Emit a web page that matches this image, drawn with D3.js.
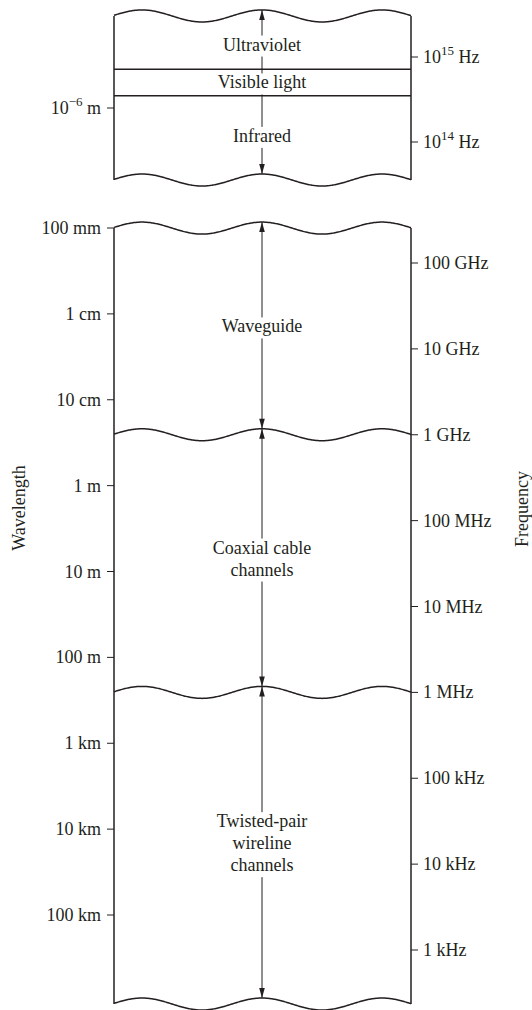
<!DOCTYPE html>
<html>
<head>
<meta charset="utf-8">
<script src="https://cdn.jsdelivr.net/npm/d3@7"></script>
<style>
  html, body { margin: 0; padding: 0; background: #fff; }
  svg { display: block; }
  text { font-family: "Liberation Serif", "DejaVu Serif", serif; font-size: 18px; fill: #231f20; }
</style>
</head>
<body>
<svg id="chart" width="532" height="1010"></svg>
<script>
// ---------- data ----------
// Optical (upper) panel
const opticalFreqTicks = [1e15, 1e14];
const opticalFreqExp = ["15", "14"];
const opticalWavelengthTicks = [1e-6];
const opticalWavelengthExp = ["\u22126"];
const opticalBandNames = ["Ultraviolet", "Visible light", "Infrared"];
const opticalBandEdges = [3.04e15, 7.2e14, 3.5e14, 3.57e13]; // Hz, top -> bottom

// Guided-wave (lower) panel
const wavelengthTicks = [1e-3, 1e-2, 1e-1, 1, 10, 100, 1e3, 1e4, 1e5]; // m
const wavelengthLabels = ["100 mm", "1 cm", "10 cm", "1 m", "10 m", "100 m", "1 km", "10 km", "100 km"];
const frequencyTicks = [1e11, 1e10, 1e9, 1e8, 1e7, 1e6, 1e5, 1e4, 1e3]; // Hz
const frequencyLabels = ["100 GHz", "10 GHz", "1 GHz", "100 MHz", "10 MHz", "1 MHz", "100 kHz", "10 kHz", "1 kHz"];
const bandNames = [["Waveguide"], ["Coaxial cable", "channels"], ["Twisted-pair", "wireline", "channels"]];
const bandEdges = [2.55e11, 1e9, 1e6, 235]; // Hz, top -> bottom

// ---------- layout ----------
const ink = "#231f20";
const xLeft = 114, xRight = 411, xMid = 262;
const waveAmp = 6, wavePeriod = 120;
const lineH = 22;

const svg = d3.select("#chart");

// scales
const yOptF = d3.scaleLog().domain([1e15, 1e14]).range([57, 142]);
const yOptW = d3.scaleLog().domain([1e-6, 1e-5]).range([108, 193]);
const yF = d3.scaleLog().domain([1e11, 1e3]).range([263, 950]);
const yW = d3.scaleLog().domain([1e-3, 1e5]).range([228, 915]);

// defs: arrowheads
const defs = svg.append("defs");
defs.append("marker")
  .attr("id", "ah").attr("viewBox", "-11 -4 12 8")
  .attr("refX", 0).attr("refY", 0)
  .attr("markerWidth", 12).attr("markerHeight", 8)
  .attr("markerUnits", "userSpaceOnUse")
  .attr("orient", "auto-start-reverse")
  .append("path").attr("d", "M0,0 L-10,-2.8 L-10,2.8 Z").attr("fill", ink);

const xs = d3.range(xLeft, xRight + 0.5, 1);
const waveLine = d3.line().x(d => d[0]).y(d => d[1]);
function wave(g, yc) {
  g.append("path")
    .attr("d", waveLine(xs.map(x => [x, yc - waveAmp * Math.cos(2 * Math.PI * (x - xMid) / wavePeriod)])))
    .attr("fill", "none").attr("stroke", ink).attr("stroke-width", 1.5);
}

function panel(edges, yScale, names, straightInner) {
  const g = svg.append("g");
  const ys = edges.map(yScale);
  // sides
  [xLeft, xRight].forEach(x => g.append("line")
    .attr("x1", x).attr("x2", x).attr("y1", ys[0]).attr("y2", ys[ys.length - 1])
    .attr("stroke", ink).attr("stroke-width", 1.5));
  // boundaries
  ys.forEach((y, i) => {
    const inner = i > 0 && i < ys.length - 1;
    if (inner && straightInner) {
      g.append("line").attr("x1", xLeft).attr("x2", xRight).attr("y1", y).attr("y2", y)
        .attr("stroke", ink).attr("stroke-width", 1.5);
    } else {
      wave(g, y);
    }
  });
  return { g, ys };
}

function bandArrow(g, y1, y2) {
  g.append("line").attr("x1", xMid).attr("x2", xMid).attr("y1", y1).attr("y2", y2)
    .attr("stroke", ink).attr("stroke-width", 1)
    .attr("marker-start", "url(#ah)").attr("marker-end", "url(#ah)");
}

function label(g, lines, yCenter) {
  const lg = g.append("g");
  const rect = lg.append("rect").attr("fill", "#fff");
  const n = lines.length;
  const firstBase = yCenter + 6 - (n - 1) * lineH / 2;
  lines.forEach((t, i) => lg.append("text")
    .attr("x", xMid).attr("y", firstBase + i * lineH)
    .attr("text-anchor", "middle").text(t));
  const bb = lg.node().getBBox();
  rect.attr("x", bb.x - 2).attr("y", bb.y + 1).attr("width", bb.width + 4).attr("height", bb.height + 1);
}

// ---------- optical panel ----------
{
  const { g, ys } = panel(opticalBandEdges, yOptF, opticalBandNames, true);
  bandArrow(g, ys[0] - waveAmp, ys[ys.length - 1] - waveAmp);
  const centers = [45, 82, 136];
  opticalBandNames.forEach((n, i) => {
    const c = (ys[i] + ys[i + 1]) / 2 + [0, 0, 0][i];
    label(g, [n], i === 0 ? c + 2 : (i === 2 ? c - 2 : c));
  });
  // right ticks
  opticalFreqTicks.forEach((f, i) => {
    const y = yOptF(f);
    g.append("line").attr("x1", xRight).attr("x2", xRight + 7).attr("y1", y).attr("y2", y)
      .attr("stroke", ink).attr("stroke-width", 1);
    const t = g.append("text").attr("x", xRight + 12).attr("y", y + 6);
    t.append("tspan").text("10");
    t.append("tspan").attr("dy", -8).style("font-size", "13px").text(opticalFreqExp[i]);
    t.append("tspan").attr("dy", 8).text(" Hz");
  });
  // left ticks
  opticalWavelengthTicks.forEach((w, i) => {
    const y = yOptW(w);
    g.append("line").attr("x1", xLeft - 7).attr("x2", xLeft).attr("y1", y).attr("y2", y)
      .attr("stroke", ink).attr("stroke-width", 1);
    const t = g.append("text").attr("x", xLeft - 13).attr("y", y + 6).attr("text-anchor", "end");
    t.append("tspan").text("10");
    t.append("tspan").attr("dy", -8).style("font-size", "13px").text(opticalWavelengthExp[i]);
    t.append("tspan").attr("dy", 8).text(" m");
  });
}

// ---------- guided-wave panel ----------
{
  const { g, ys } = panel(bandEdges, yF, bandNames, false);
  for (let i = 0; i < ys.length - 1; i++) {
    bandArrow(g, ys[i] - waveAmp, ys[i + 1] - waveAmp);
  }
  bandNames.forEach((lines, i) => {
    const c = (ys[i] + ys[i + 1]) / 2 - 5;
    label(g, lines, c);
  });
  wavelengthTicks.forEach((w, i) => {
    const y = yW(w);
    g.append("line").attr("x1", xLeft - 7).attr("x2", xLeft).attr("y1", y).attr("y2", y)
      .attr("stroke", ink).attr("stroke-width", 1);
    g.append("text").attr("x", xLeft - 13).attr("y", y + 6).attr("text-anchor", "end").text(wavelengthLabels[i]);
  });
  frequencyTicks.forEach((f, i) => {
    const y = yF(f);
    g.append("line").attr("x1", xRight).attr("x2", xRight + 7).attr("y1", y).attr("y2", y)
      .attr("stroke", ink).attr("stroke-width", 1);
    g.append("text").attr("x", xRight + 12).attr("y", y + 6).text(frequencyLabels[i]);
  });
}

// ---------- axis titles ----------
svg.append("text").attr("transform", "translate(25,508) rotate(-90)")
  .attr("text-anchor", "middle").text("Wavelength");
svg.append("text").attr("transform", "translate(528,509) rotate(-90)")
  .attr("text-anchor", "middle").text("Frequency");
</script>
</body>
</html>
